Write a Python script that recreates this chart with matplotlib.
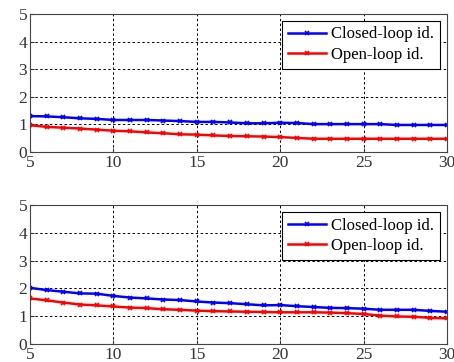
import numpy as np
from matplotlib import pyplot as plt

plt.rcParams["font.family"] = ["Liberation Serif", "DejaVu Serif"]

n = list(range(5, 31))
closed_top = [1.30, 1.29, 1.26, 1.22, 1.20, 1.16, 1.16, 1.16, 1.14, 1.12, 1.09, 1.09, 1.07,
              1.04, 1.04, 1.06, 1.05, 1.01, 1.01, 1.01, 1.01, 1.01, 0.98, 0.98, 0.98, 0.98]
open_top = [0.97, 0.91, 0.88, 0.85, 0.81, 0.77, 0.75, 0.71, 0.68, 0.64, 0.63, 0.60, 0.58,
            0.57, 0.56, 0.54, 0.51, 0.48, 0.48, 0.48, 0.48, 0.48, 0.48, 0.48, 0.48, 0.48]
closed_bot = [2.02, 1.94, 1.88, 1.82, 1.81, 1.73, 1.67, 1.64, 1.60, 1.58, 1.53, 1.49, 1.47,
              1.43, 1.39, 1.40, 1.36, 1.33, 1.30, 1.29, 1.27, 1.23, 1.23, 1.23, 1.19, 1.16]
open_bot = [1.64, 1.57, 1.49, 1.42, 1.39, 1.35, 1.31, 1.29, 1.25, 1.23, 1.20, 1.18, 1.17,
            1.16, 1.15, 1.14, 1.14, 1.14, 1.13, 1.11, 1.08, 1.02, 0.99, 0.98, 0.94, 0.92]
labels = ["Closed-loop id.", "Open-loop id."]

fig = plt.figure(figsize=(4.54, 3.62), dpi=100)
ax1 = fig.add_axes([30/454, 1-152/362, 417/454, 138/362])
ax2 = fig.add_axes([30/454, 1-344/362, 417/454, 139/362])

for ax, cl, op in [(ax1, closed_top, open_top), (ax2, closed_bot, open_bot)]:
    ax.plot(n, cl, color="#0000ff", lw=1.8, marker="x", ms=3.5, mew=1.2, label=labels[0])
    ax.plot(n, op, color="#ff0000", lw=1.8, marker="x", ms=3.5, mew=1.2, label=labels[1])
    ax.set_xlim(5, 30)
    ax.set_ylim(0, 5)
    ax.set_xticks([5, 10, 15, 20, 25, 30])
    ax.set_yticks([0, 1, 2, 3, 4, 5])
    ax.grid(True, color="black", ls=(0, (2.5, 2.5)), lw=0.7)
    ax.tick_params(direction="in", length=3, labelsize=12.5, colors="#333333", pad=2)
    for s in ax.spines.values():
        s.set_color("#444444")
        s.set_linewidth(0.8)
    leg = ax.legend(loc="upper right", fontsize=12, fancybox=False, framealpha=1,
                    edgecolor="black", handlelength=2.3, borderpad=0.35,
                    labelspacing=0.25, handletextpad=0.3, borderaxespad=0.4)
    leg.get_frame().set_linewidth(0.8)

plt.savefig("out.png")
